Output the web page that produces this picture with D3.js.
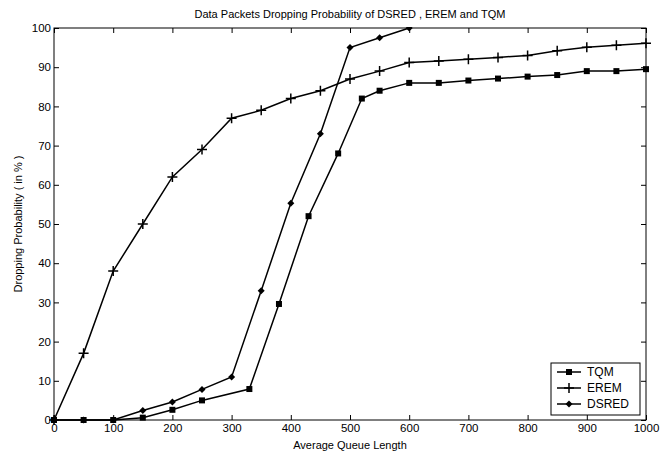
<!DOCTYPE html>
<html>
<head>
<meta charset="utf-8">
<script src="https://cdn.jsdelivr.net/npm/d3@7"></script>
<style>
  body { margin: 0; background: #fff; }
  svg { display: block; font-family: "Liberation Sans", Arial, sans-serif; }
  .tick text { font-size: 11.5px; fill: #000; }
</style>
</head>
<body>
<div id="chart"></div>
<script>
const tqmX  = [0, 50, 100, 150, 200, 250, 330, 380, 430, 480, 520, 550, 600, 650, 700, 750, 800, 850, 900, 950, 1000];
const tqmY  = [0, 0, 0, 0.6, 2.6, 5, 7.9, 29.6, 52, 68, 82, 84, 86, 86, 86.6, 87.1, 87.6, 88, 89, 89, 89.5];
const eremX = [0, 50, 100, 150, 200, 250, 300, 350, 400, 450, 500, 550, 600, 650, 700, 750, 800, 850, 900, 950, 1000];
const eremY = [0, 17, 38, 50, 62, 69, 77, 79, 82, 84, 87, 89, 91.2, 91.6, 92, 92.5, 93, 94.2, 95.1, 95.6, 96.1];
const dsredX = [0, 50, 100, 150, 200, 250, 300, 350, 400, 450, 500, 550, 600];
const dsredY = [0, 0, 0, 2.4, 4.6, 7.8, 11, 33, 55.3, 73, 95, 97.5, 100];
const xTicks = [0, 100, 200, 300, 400, 500, 600, 700, 800, 900, 1000];
const yTicks = [0, 10, 20, 30, 40, 50, 60, 70, 80, 90, 100];

const W = 660, H = 459;
const margin = { top: 28, right: 14, bottom: 39, left: 54 };
const width = W - margin.left - margin.right;
const height = H - margin.top - margin.bottom;

const svg = d3.select('#chart').append('svg')
  .attr('width', W)
  .attr('height', H);

const g = svg.append('g')
  .attr('transform', `translate(${margin.left},${margin.top})`);

const x = d3.scaleLinear().domain([0, 1000]).range([0, width]);
const y = d3.scaleLinear().domain([0, 100]).range([height, 0]);
const fmt = d3.format('d');

// axes with inward ticks, box on all sides
g.append('g')
  .attr('transform', `translate(0,${height})`)
  .call(d3.axisBottom(x).tickValues(xTicks).tickFormat(fmt).tickSizeInner(-5).tickSizeOuter(0).tickPadding(4))
  .call(a => a.select('.domain').remove());
g.append('g')
  .call(d3.axisLeft(y).tickValues(yTicks).tickFormat(fmt).tickSizeInner(-5).tickSizeOuter(0).tickPadding(3))
  .call(a => a.select('.domain').remove());
g.append('g')
  .call(d3.axisTop(x).tickValues(xTicks).tickSizeInner(-5).tickSizeOuter(0).tickFormat(''))
  .call(a => a.select('.domain').remove());
g.append('g')
  .attr('transform', `translate(${width},0)`)
  .call(d3.axisRight(y).tickValues(yTicks).tickSizeInner(-5).tickSizeOuter(0).tickFormat(''))
  .call(a => a.select('.domain').remove());

g.selectAll('.tick line').attr('stroke', '#000');

g.append('rect')
  .attr('x', 0).attr('y', 0)
  .attr('width', width).attr('height', height)
  .attr('fill', 'none')
  .attr('stroke', '#000');

const line = d3.line().x(d => x(d[0])).y(d => y(d[1]));

const series = [
  { name: 'TQM',   pts: d3.zip(tqmX, tqmY),     marker: 'square' },
  { name: 'EREM',  pts: d3.zip(eremX, eremY),   marker: 'plus' },
  { name: 'DSRED', pts: d3.zip(dsredX, dsredY), marker: 'diamond' }
];

function drawMarker(sel, type) {
  if (type === 'square') {
    sel.append('rect').attr('x', -3).attr('y', -3).attr('width', 6).attr('height', 6).attr('fill', '#000');
  } else if (type === 'plus') {
    sel.append('path').attr('d', 'M-5,0H5M0,-5V5').attr('stroke', '#000').attr('stroke-width', 1.5);
  } else {
    sel.append('path').attr('d', 'M0,-3.5L3.5,0L0,3.5L-3.5,0Z').attr('fill', '#000');
  }
}

g.append('clipPath').attr('id', 'clip')
  .append('rect').attr('x', -6).attr('y', -1).attr('width', width + 12).attr('height', height + 7);

series.forEach(s => {
  const sg = g.append('g').attr('clip-path', 'url(#clip)');
  sg.append('path')
    .datum(s.pts)
    .attr('d', line)
    .attr('fill', 'none')
    .attr('stroke', '#000')
    .attr('stroke-width', 1.5);
  sg.selectAll('.m')
    .data(s.pts)
    .enter().append('g')
    .attr('transform', d => `translate(${x(d[0])},${y(d[1])})`)
    .each(function() { drawMarker(d3.select(this), s.marker); });
});

// legend
const lg = svg.append('g').attr('transform', 'translate(551,363)');
lg.append('rect').attr('width', 89).attr('height', 52).attr('fill', '#fff').attr('stroke', '#000');
series.forEach((s, i) => {
  const row = lg.append('g').attr('transform', `translate(0,${9 + i * 16})`);
  row.append('line').attr('x1', 6).attr('x2', 30).attr('stroke', '#000').attr('stroke-width', 1.5);
  drawMarker(row.append('g').attr('transform', 'translate(18,0)'), s.marker);
  row.append('text').attr('x', 36).attr('y', 4).style('font-size', '12px').text(s.name);
});

svg.append('text')
  .attr('x', margin.left + width / 2)
  .attr('y', 18)
  .attr('text-anchor', 'middle')
  .style('font-size', '11px')
  .text('Data Packets Dropping Probability of DSRED , EREM and TQM');

svg.append('text')
  .attr('x', margin.left + width / 2)
  .attr('y', 449)
  .attr('text-anchor', 'middle')
  .style('font-size', '11px')
  .text('Average Queue Length');

svg.append('text')
  .attr('transform', `translate(22,${margin.top + height / 2}) rotate(-90)`)
  .attr('text-anchor', 'middle')
  .style('font-size', '11px')
  .text('Dropping Probability ( in % )');
</script>
</body>
</html>
